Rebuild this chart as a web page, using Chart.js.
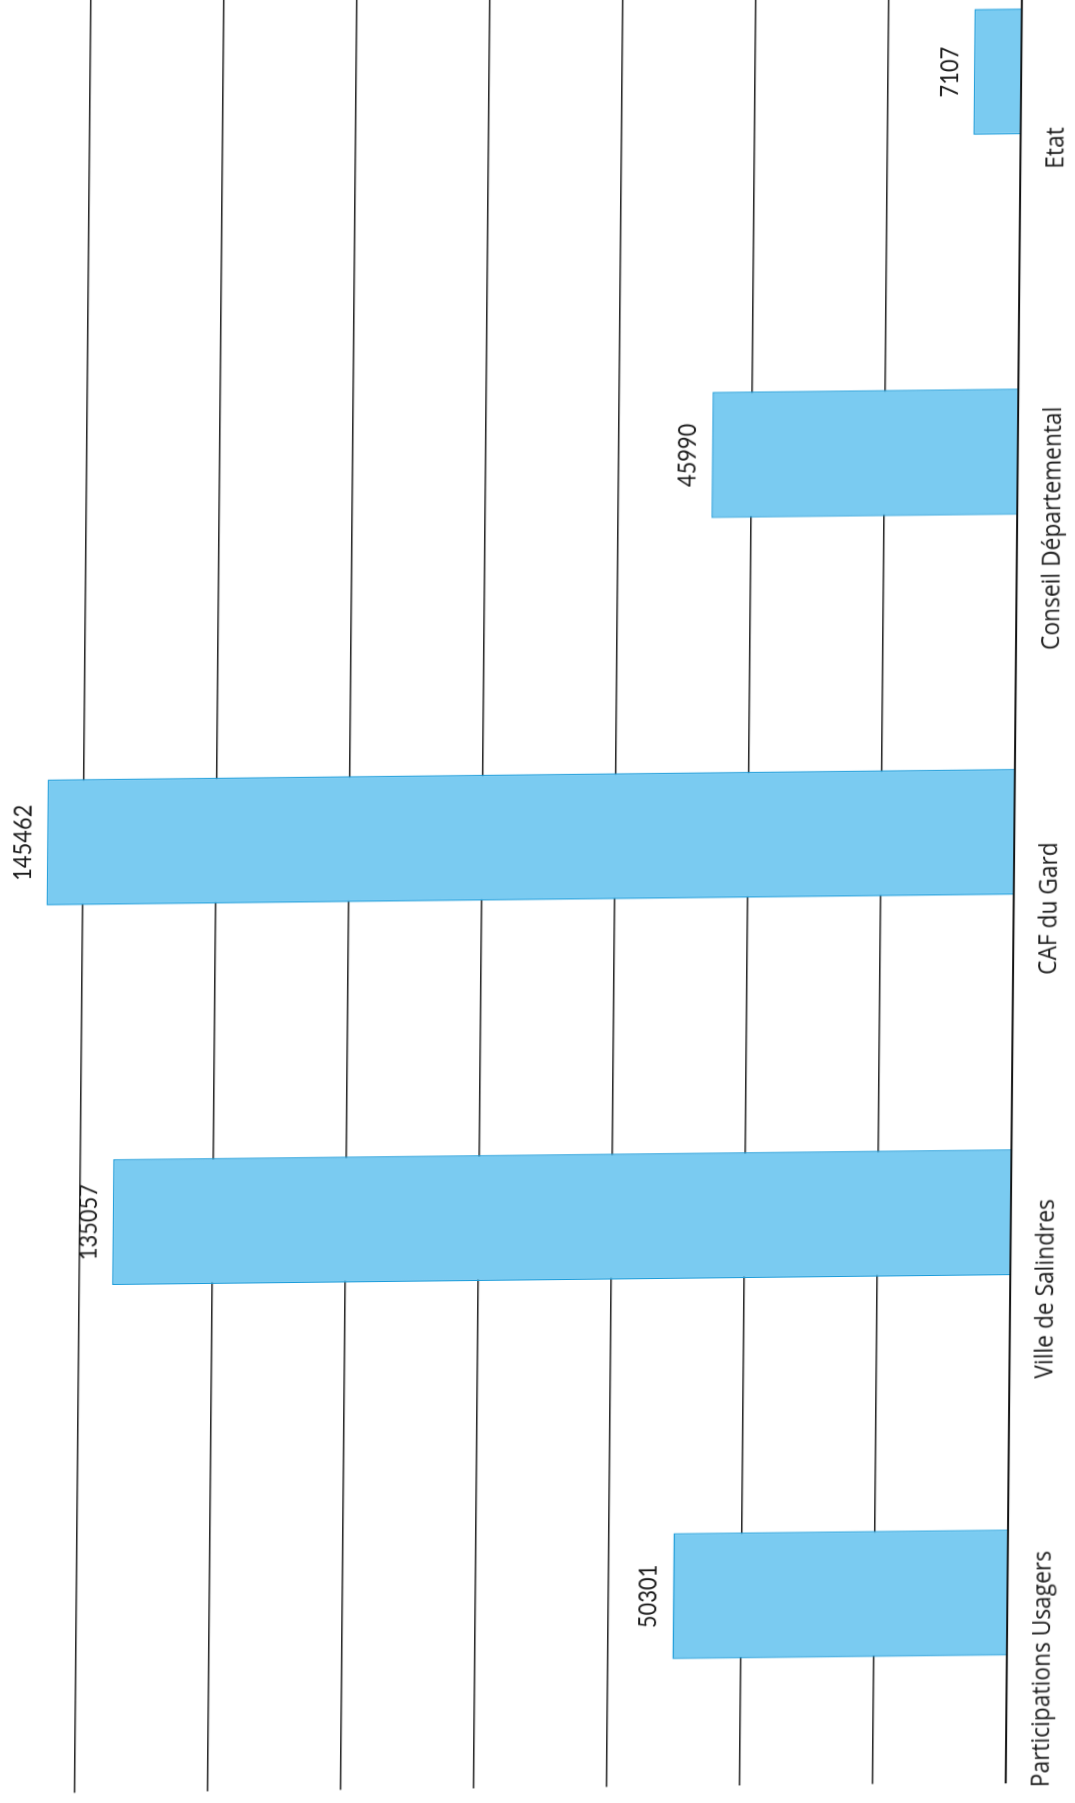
<!DOCTYPE html>
<html lang="fr">
<head>
<meta charset="utf-8">
<title>Financements</title>
<script src="https://cdn.jsdelivr.net/npm/chart.js@4.4.1/dist/chart.umd.min.js"></script>
<style>
    html, body {
        margin: 0;
        padding: 0;
        width: 1075px;
        height: 1803px;
        overflow: hidden;
        background: #ffffff;
    }
    /* The sheet was scanned sideways and a little skewed */
    #sheet {
        position: absolute;
        left: 0;
        top: 0;
        width: 2233px;
        height: 1144px;
        transform-origin: 0 0;
        transform: matrix(0.00793, -0.875, 1, -0.011, -58.8, 1846.8);
    }
</style>
</head>
<body>
<div id="sheet">
    <canvas id="funding-chart" width="2233" height="1144"></canvas>
</div>
<script>
// Data
const categories = ['Participations Usagers', 'Ville de Salindres', 'CAF du Gard', 'Conseil Départemental', 'Etat'];
const amounts = [50301, 135057, 145462, 45990, 7107];
const valueTicks = [0, 20000, 40000, 60000, 80000, 100000, 120000, 140000, 160000];

// Chart colors
const chartColors = {
    barFill: '#7acbf1',
    barBorder: '#1b9cda',
    grid: '#1e1e1e',
    axis: '#111111',
    text: '#1a1a1a'
};

// Value written above each bar
const valueLabels = {
    id: 'valueLabels',
    afterDatasetsDraw(chart) {
        const ctx = chart.ctx;
        const meta = chart.getDatasetMeta(0);
        ctx.save();
        ctx.font = '25px Lato';
        ctx.fillStyle = chartColors.text;
        ctx.textAlign = 'center';
        ctx.textBaseline = 'alphabetic';
        meta.data.forEach((bar, i) => {
            ctx.fillText(String(amounts[i]), bar.x, bar.y - 16);
        });
        ctx.restore();
    }
};

function init() {
    const ctx = document.getElementById('funding-chart').getContext('2d');

    new Chart(ctx, {
        type: 'bar',
        data: {
            labels: categories,
            datasets: [{
                data: amounts,
                backgroundColor: chartColors.barFill,
                borderColor: chartColors.barBorder,
                borderWidth: 1.5,
                categoryPercentage: 1,
                barPercentage: 0.331
            }]
        },
        options: {
            responsive: false,
            animation: false,
            layout: { padding: { left: 60, top: 0, right: 0, bottom: 0 } },
            plugins: {
                legend: { display: false },
                tooltip: { enabled: false }
            },
            scales: {
                x: {
                    grid: { display: false, drawTicks: false },
                    border: { display: true, color: chartColors.axis, width: 2 },
                    ticks: {
                        color: chartColors.text,
                        font: { family: 'Open Sans', size: 26 },
                        padding: 20,
                        labelOffset: -88, // labels sit a bit off the bars in the scan
                        maxRotation: 0,
                        minRotation: 0,
                        autoSkip: false
                    },
                    afterFit: scale => { scale.height = 80; }
                },
                y: {
                    min: valueTicks[0],
                    max: valueTicks[valueTicks.length - 1],
                    afterBuildTicks: scale => {
                        scale.ticks = valueTicks.map(v => ({ value: v }));
                    },
                    grid: { color: chartColors.grid, lineWidth: 1.5, drawTicks: false },
                    border: { display: false },
                    ticks: { display: false },
                    afterFit: scale => { scale.width = 0; }
                }
            }
        },
        plugins: [valueLabels]
    });
}

document.addEventListener('DOMContentLoaded', init);
</script>
</body>
</html>
